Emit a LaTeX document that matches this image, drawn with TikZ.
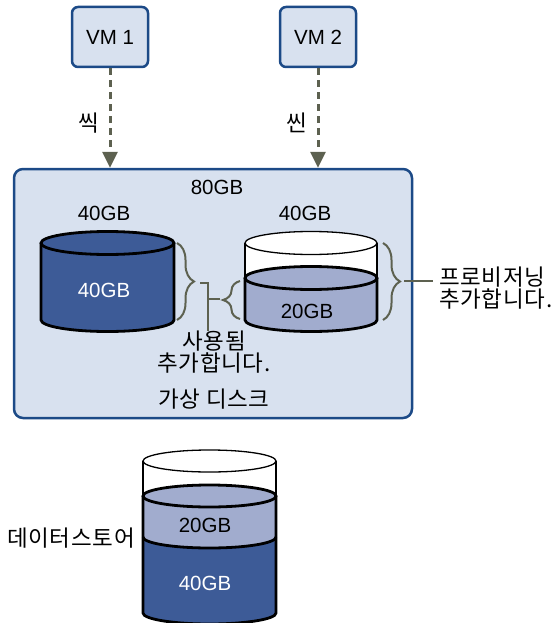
\documentclass[tikz,border=0pt]{standalone}
\usepackage{fontspec}
\setmainfont{Liberation Sans}
\newfontfamily\krfont[LetterSpace=3]{Noto Sans CJK KR}
\usepackage{tikz}
\usetikzlibrary{arrows.meta,positioning,decorations.pathreplacing}
\definecolor{boxfill}{HTML}{D8E1EF}
\definecolor{boxline}{HTML}{1C4A87}
\definecolor{fullblue}{HTML}{3D5B97}
\definecolor{usedblue}{HTML}{A1ACCE}
\definecolor{leadcol}{HTML}{5D6150}

\begin{document}
\begin{tikzpicture}[x=1pt,y=-1pt,
  vmbox/.style={draw=boxline,line width=2.5pt,rounded corners=6pt,fill=boxfill,
                minimum width=76pt,minimum height=60pt,font=\fontsize{20.5pt}{19pt}\selectfont},
  diskbox/.style={draw=boxline,line width=2.5pt,rounded corners=9pt,fill=boxfill,
                minimum width=398pt,minimum height=249pt},
  flow/.style={draw=leadcol,line width=3pt,dash pattern=on 7pt off 5pt,
               -{Triangle[length=16pt,width=15pt]}},
  lbl/.style={inner sep=0pt,font=\fontsize{20.5pt}{19pt}\selectfont},
  kr/.style={inner sep=0pt,font=\fontsize{22.5pt}{19pt}\selectfont\krfont},
  thickrim/.style={draw=black,line width=2.8pt},
  thinrim/.style={draw=black,line width=1.3pt},
  bracket/.style={draw=leadcol,line width=2pt,decorate,decoration={brace,amplitude=17pt}},
  leader/.style={draw=leadcol,line width=2pt}]
\useasboundingbox (0,0) rectangle (552,623);

% virtual machines and the virtual disk
\node[diskbox] (vdisk) at (213,293.5) {};
\node[vmbox] (vm1) at (110,37) {VM 1};
\node[vmbox] (vm2) at (318,37) {VM 2};
\draw[flow] (vm1) -- (vm1 |- vdisk.north) node[kr,pos=0.55,left=9pt] (thick) {씩};
\draw[flow] (vm2) -- (vm2 |- vdisk.north) node[kr,pos=0.55,left=9pt] (thin) {씬};

\node[lbl] (total) at (217,187) {80GB};
\node[lbl] (size1) at (104,213) {40GB};
\node[lbl] (size2) at (305,213) {40GB};

% thick disk
\fill[fullblue] (41,243) -- (41,320) arc[start angle=180,end angle=0,x radius=66.5,y radius=11.5]
  -- (174,243) arc[start angle=0,end angle=-180,x radius=66.5,y radius=11.5] -- cycle;
\draw[thickrim] (107.5,243) ellipse[x radius=66.5,y radius=11.5];
\draw[thickrim] (41,243) -- (41,320) arc[start angle=180,end angle=0,x radius=66.5,y radius=11.5] -- (174,243);
\node[lbl,text=white] (full1) at (104,290) {40GB};

% thin disk
\fill[white] (245,243) -- (245,320) arc[start angle=180,end angle=0,x radius=66,y radius=11.5]
  -- (377,243) arc[start angle=0,end angle=-180,x radius=66,y radius=11.5] -- cycle;
\fill[usedblue] (245,278) -- (245,320) arc[start angle=180,end angle=0,x radius=66,y radius=11.5]
  -- (377,278) arc[start angle=0,end angle=-180,x radius=66,y radius=11.5] -- cycle;
\draw[thinrim] (311,243) ellipse[x radius=66,y radius=11.5];
\draw[thinrim] (245,243) -- (245,278) (377,243) -- (377,278);
\draw[thickrim] (311,278) ellipse[x radius=66,y radius=11.5];
\draw[thickrim] (245,278) -- (245,320) arc[start angle=180,end angle=0,x radius=66,y radius=11.5] -- (377,278);
\node[lbl] (used2) at (307,311) {20GB};

% braces and leaders
\draw[bracket] (177,243) -- (177,320);
\draw[bracket] (240,319) -- (240,281);
\draw[bracket] (383,243) -- (383,320);
\coordinate (ltip) at (200,283);
\coordinate (join) at (208,283);
\coordinate (rtip) at (220,299);
\coordinate (ptip) at (404,281);
\node[kr,align=center] (used) at (214,352) {사용됨\\추가합니다.};
\node[kr,align=left,anchor=west] (prov) at (439,288) {프로비저닝\\추가합니다.};
\draw[leader] (ltip) -- (join) -- (join |- used.north);
\draw[leader] (join |- rtip) -- (rtip);
\draw[leader,shorten >=6pt] (ptip) -- (ptip -| prov.west);
\node[kr] (vname) at (214,399) {가상 디스크};

% datastore
\fill[white] (143,461) -- (143,613) arc[start angle=180,end angle=0,x radius=66.5,y radius=11]
  -- (276,461) arc[start angle=0,end angle=-180,x radius=66.5,y radius=11] -- cycle;
\fill[usedblue] (143,496) -- (143,613) arc[start angle=180,end angle=0,x radius=66.5,y radius=11]
  -- (276,496) arc[start angle=0,end angle=-180,x radius=66.5,y radius=11] -- cycle;
\fill[fullblue] (143,537) -- (143,613) arc[start angle=180,end angle=0,x radius=66.5,y radius=11]
  -- (276,537) arc[start angle=0,end angle=180,x radius=66.5,y radius=11] -- cycle;
\draw[thinrim] (209.5,461) ellipse[x radius=66.5,y radius=11];
\draw[thinrim] (143,461) -- (143,496) (276,461) -- (276,496);
\draw[thickrim] (209.5,496) ellipse[x radius=66.5,y radius=11];
\draw[thickrim] (143,496) -- (143,613) arc[start angle=180,end angle=0,x radius=66.5,y radius=11] -- (276,496);
\draw[thickrim] (143,537) arc[start angle=180,end angle=0,x radius=66.5,y radius=11];
\node[lbl] (ds20) at (205,525) {20GB};
\node[lbl,text=white] (ds40) at (205,583) {40GB};
\node[kr,anchor=east] (dstore) at (135,538) {데이터스토어};
\end{tikzpicture}
\end{document}
